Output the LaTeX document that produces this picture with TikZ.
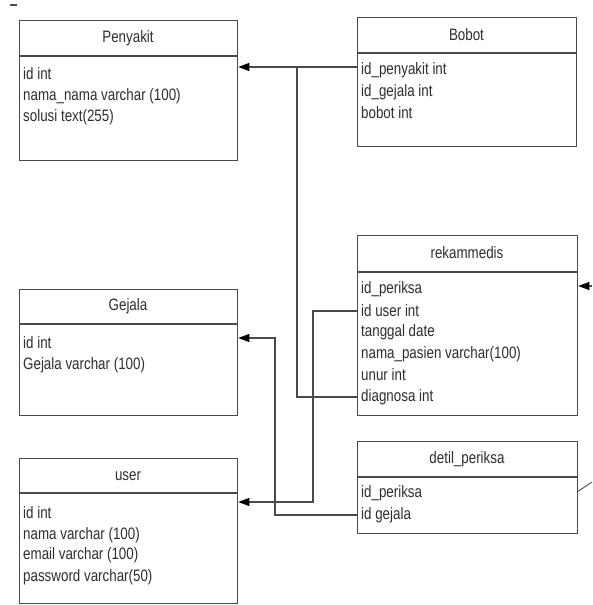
\documentclass[tikz,border=0pt]{standalone}
\usepackage{fontspec}
\setmainfont{Liberation Sans}[FakeStretch=0.81]
\usetikzlibrary{arrows.meta}
\definecolor{linec}{HTML}{4A4A4A}
\definecolor{txtc}{HTML}{2E2E2E}
\begin{document}
\begin{tikzpicture}[x=1pt,y=-1pt,
  tbl/.style={draw=linec, line width=1.3pt, anchor=north west, inner sep=0pt, fill=white},
  hdr/.style={draw=linec, line width=1.3pt},
  ttl/.style={inner sep=0pt, text=txtc, font=\fontsize{16.5}{19}\selectfont},
  row/.style={inner sep=0pt, anchor=west, text=txtc, font=\fontsize{16.5}{19}\selectfont},
  conn/.style={draw=linec, line width=1.2pt},
  arr/.style={conn, -{Triangle[length=11pt,width=8pt,fill=black,color=black]}}]
\useasboundingbox (0,0) rectangle (592,605);
% top-left dash
\draw[linec, line width=1.5pt] (10,5) -- (17,5);

% Penyakit
\node[tbl, minimum width=218pt, minimum height=140pt] (pen) at (19,20) {};
\draw[hdr] (19,56) -- (237,56);
\node[ttl] (penT) at (128,38) {Penyakit};
\node[row] (pen1) at (23,74) {id int};
\node[row] (pen2) at (23,96) {nama\_nama varchar (100)};
\node[row] (pen3) at (23,117) {solusi text(255)};

% Bobot
\node[tbl, minimum width=219pt, minimum height=129pt] (bob) at (357,17) {};
\draw[hdr] (357,53) -- (576,53);
\node[ttl] (bobT) at (466.5,35) {Bobot};
\node[row] (bob1) at (361,70) {id\_penyakit int};
\node[row] (bob2) at (361,92) {id\_gejala int};
\node[row] (bob3) at (361,113) {bobot int};

% Gejala
\node[tbl, minimum width=218pt, minimum height=126pt] (gej) at (19,289) {};
\draw[hdr] (19,324) -- (237,324);
\node[ttl] (gejT) at (128,306) {Gejala};
\node[row] (gej1) at (23,343) {id int};
\node[row] (gej2) at (23,365) {Gejala varchar (100)};

% rekammedis
\node[tbl, minimum width=220pt, minimum height=180pt] (rek) at (357,235) {};
\draw[hdr] (357,272) -- (577,272);
\node[ttl] (rekT) at (467,253) {rekammedis};
\node[row] (rek1) at (361,289) {id\_periksa};
\node[row] (rek2) at (361,311) {id user int};
\node[row] (rek3) at (361,332) {tanggal date};
\node[row] (rek4) at (361,354) {nama\_pasien varchar(100)};
\node[row] (rek5) at (361,375) {unur int};
\node[row] (rek6) at (361,397) {diagnosa int};

% detil_periksa
\node[tbl, minimum width=220pt, minimum height=92pt] (det) at (357,441) {};
\draw[hdr] (357,477) -- (577,477);
\node[ttl] (detT) at (467,459) {detil\_periksa};
\node[row] (det1) at (361,493) {id\_periksa};
\node[row] (det2) at (361,515) {id gejala};

% user
\node[tbl, minimum width=218pt, minimum height=145pt] (usr) at (19,458) {};
\draw[hdr] (19,493) -- (237,493);
\node[ttl] (usrT) at (128,476) {user};
\node[row] (usr1) at (23,513) {id int};
\node[row] (usr2) at (23,535) {nama varchar (100)};
\node[row] (usr3) at (23,555) {email varchar (100)};
\node[row] (usr4) at (23,577) {password varchar(50)};

% junctions and free ends
\coordinate (j1) at (297,67);
\coordinate (j2) at (275,338);
\coordinate (j3) at (313,502);
\coordinate (e1) at (592,286);
\coordinate (e2) at (592,482);
\coordinate (e3) at (577,492);

% connectors
\draw[arr] (bob.west |- j1) -- (pen.east |- j1);
\draw[conn] (rek.west |- rek6) -| (j1);
\draw[arr] (rek.west |- rek2) -| (j3) -- (usr.east |- j3);
\draw[arr] (det.west |- det2) -| (j2) -- (gej.east |- j2);
\draw[arr] (e1) -- (rek.east |- e1);
\draw[conn, line width=0.9pt] (e3) -- (e2);
\end{tikzpicture}
\end{document}
